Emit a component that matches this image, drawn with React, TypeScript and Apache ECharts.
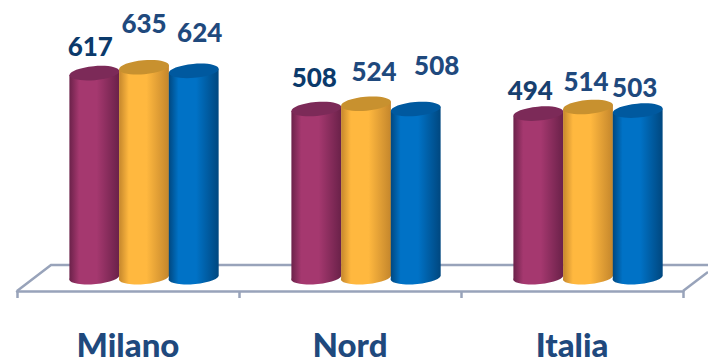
import React, { useEffect, useRef } from "react";
import * as echarts from "echarts";

const categories = ["Milano", "Nord", "Italia"];
const purpleValues = [617, 508, 494];
const orangeValues = [635, 524, 514];
const blueValues = [624, 508, 503];

const FONT = 'Lato, "Open Sans", sans-serif';
const RX = 25;
const RY = 7;
const TILT = -5;
const DEPTH_X = 16;
const DEPTH_Y = 15;
const STEP = 49.7;

function cylinderSeries(
  name: string,
  values: number[],
  slot: number,
  edge: string,
  mid: string,
  cap: string,
  labelColors: string[],
  labelOffsets: number[][]
) {
  return {
    type: "custom",
    name,
    clip: false,
    data: values.map((v, i) => [i, v]),
    encode: { x: 0, y: 1 },
    renderItem: (params: any, api: any) => {
      const i = api.value(0);
      const v = api.value(1);
      const top = api.coord([i, v]);
      const base = api.coord([i, 0]);
      const cx = top[0] + DEPTH_X + slot * STEP;
      const ty = top[1] - DEPTH_Y;
      const by = base[1] - DEPTH_Y;
      const rad = (TILT * Math.PI) / 180;
      const dx = RX * Math.cos(rad);
      const dy = RX * Math.sin(rad);
      const body =
        `M${cx - dx} ${ty - dy}L${cx - dx} ${by - dy}` +
        `A${RX} ${RY} ${TILT} 0 0 ${cx + dx} ${by + dy}` +
        `L${cx + dx} ${ty + dy}Z`;
      const off = labelOffsets[i];
      return {
        type: "group",
        children: [
          {
            type: "path",
            shape: { pathData: body },
            style: {
              fill: new echarts.graphic.LinearGradient(0, 0, 1, 0, [
                { offset: 0, color: edge },
                { offset: 0.2, color: mid },
                { offset: 0.55, color: mid },
                { offset: 1, color: edge },
              ]),
            },
          },
          {
            type: "ellipse",
            x: cx,
            y: ty,
            rotation: (-TILT * Math.PI) / 180,
            shape: { cx: 0, cy: 0, rx: RX, ry: RY },
            style: { fill: cap },
          },
          {
            type: "text",
            x: cx + off[0],
            y: ty + off[1],
            style: {
              text: String(v),
              font: `900 26px ${FONT}`,
              fill: labelColors[i],
              align: "center",
              verticalAlign: "middle",
            },
          },
        ],
      };
    },
  };
}

export default function App() {
  const ref = useRef<HTMLDivElement>(null);
  useEffect(() => {
    const chart = echarts.init(ref.current!, undefined, { renderer: "svg" });
    const floor = { stroke: "#98A3BA", lineWidth: 2.5 };
    chart.setOption({
      animation: false,
      backgroundColor: "#fff",
      grid: { left: 17, right: 25, top: 28, bottom: 72 },
      xAxis: {
        type: "category",
        data: categories,
        boundaryGap: true,
        axisLine: { lineStyle: { color: "#98A3BA", width: 2.5 } },
        axisTick: { show: true, alignWithLabel: false, length: 7, lineStyle: { color: "#98A3BA", width: 2.5 } },
        axisLabel: {
          interval: 0,
          margin: 36,
          fontFamily: FONT,
          fontWeight: 900,
          fontSize: 33,
          color: "#1F497D",
        },
      },
      yAxis: { type: "value", min: 0, max: 800, show: false },
      graphic: [
        { type: "polyline", silent: true, z: 0, shape: { points: [[17, 291], [51, 265], [708, 265]] }, style: { ...floor, fill: "none" } },
        { type: "line", silent: true, z: 0, shape: { x1: 683, y1: 291, x2: 708, y2: 272 }, style: floor },
      ],
      series: [
        cylinderSeries("Purple", purpleValues, -1, "#6A2149", "#A5386F", "#7C2A58", ["#0B3A6B", "#0B3A6B", "#17406F"], [[-4, -27], [-2, -32], [-8, -24]]),
        cylinderSeries("Orange", orangeValues, 0, "#C4862C", "#FFB83F", "#C8912F", ["#1F497D", "#1F497D", "#1F497D"], [[0, -44], [8, -33], [-2, -26]]),
        cylinderSeries("Blue", blueValues, 1, "#00477F", "#0072C6", "#00599F", ["#1F497D", "#1F497D", "#1F497D"], [[6, -39], [21, -44], [-3, -24]]),
      ],
    });
    return () => chart.dispose();
  }, []);
  return <div ref={ref} style={{ position: "fixed", left: 0, top: 0, width: 708, height: 363 }} />;
}
